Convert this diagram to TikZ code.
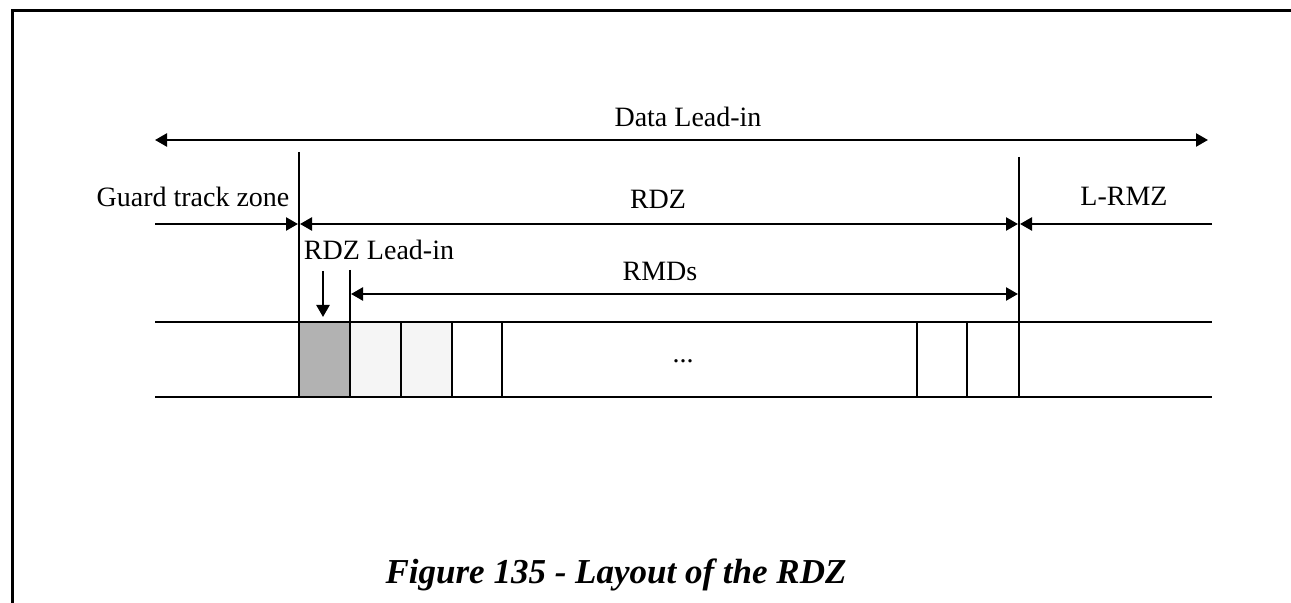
\documentclass[tikz,border=0pt]{standalone}
\usepackage{fontspec}
\setmainfont{Liberation Serif}
\usetikzlibrary{arrows.meta}
\begin{document}
\begin{tikzpicture}[x=0.5pt,y=-0.5pt,
  thinline/.style={line width=1.2pt},
  dimarrow/.style={line width=1.2pt,-{Triangle[length=6pt,width=6.5pt]}},
  dimboth/.style={line width=1.2pt,{Triangle[length=6pt,width=6.5pt]}-{Triangle[length=6pt,width=6.5pt]}},
  lbl/.style={font=\fontsize{14}{16}\selectfont, inner sep=0pt},
  caption/.style={font=\fontsize{17.5}{20}\selectfont\bfseries\itshape, inner sep=0pt}]
\useasboundingbox (0,0) rectangle (1291,603);
% frame
\coordinate (fb) at (12.5,603);
\coordinate (fc) at (12.5,10.5);
\coordinate (fr) at (1291,10.5);
\draw[line width=1.6pt] (fb) -- (fc) -- (fr);

% Data lead-in
\coordinate (dl) at (155,140);
\coordinate (dr) at (1208,140);
\draw[dimboth] (dl) -- (dr);
\node[lbl] (datalead) at (688,117) {Data Lead-in};

% strip fills
\path[fill=black!30] (299,322) rectangle (350,397);
\path[fill=black!4] (350,322) rectangle (452,397);

% vertical boundary lines
\coordinate (v1t) at (299,152); \coordinate (v1b) at (299,397);
\coordinate (v2t) at (1019,157); \coordinate (v2b) at (1019,397);
\coordinate (v3t) at (350,270); \coordinate (v3b) at (350,397);
\draw[thinline] (v1t) -- (v1b);
\draw[thinline] (v2t) -- (v2b);
\draw[thinline] (v3t) -- (v3b);

% zone arrows
\coordinate (gl) at (155,224);
\coordinate (gr) at (298,224);
\draw[dimarrow] (gl) -- (gr);
\node[lbl] (guard) at (193,197) {Guard track zone};

\coordinate (rl) at (300,224);
\coordinate (rr) at (1018,224);
\draw[dimboth] (rl) -- (rr);
\node[lbl] (rdz) at (658,199) {RDZ};

\coordinate (ll) at (1212,224);
\coordinate (lr) at (1020,224);
\draw[dimarrow] (ll) -- (lr);
\node[lbl] (lrmz) at (1124,196) {L-RMZ};

\node[lbl] (rdzlead) at (379,250) {RDZ Lead-in};
\coordinate (da) at (323,271);
\coordinate (db) at (323,317);
\draw[dimarrow] (da) -- (db);

\coordinate (ml) at (351,294);
\coordinate (mr) at (1018,294);
\draw[dimboth] (ml) -- (mr);
\node[lbl] (rmds) at (660,271) {RMDs};

% strip lines
\coordinate (st1) at (155,322); \coordinate (st2) at (1212,322);
\coordinate (sb1) at (155,397); \coordinate (sb2) at (1212,397);
\draw[thinline] (st1) -- (st2);
\draw[thinline] (sb1) -- (sb2);
\foreach \x in {401,452,502,917,967} {
  \draw[thinline] (\x,322) -- (\x,397);
}
\node[lbl] (dots) at (683,361) {...};

\node[caption] (cap) at (616,575) {Figure 135 - Layout of the RDZ};
\end{tikzpicture}
\end{document}
